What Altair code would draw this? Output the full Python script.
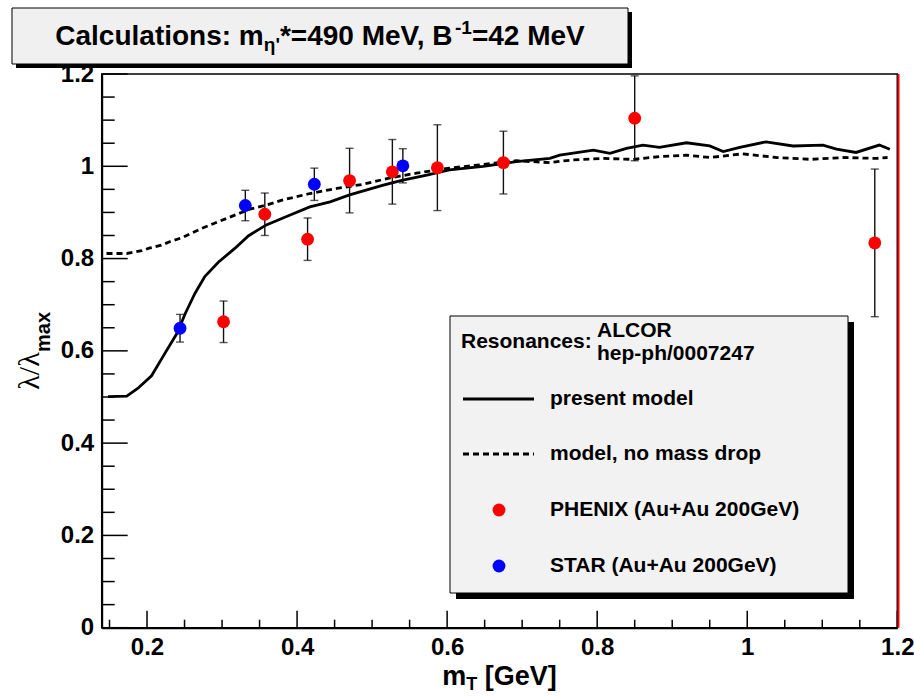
import altair as alt
import pandas as pd

# ---------------- data ----------------
solid_x = [0.148, 0.173, 0.188, 0.206, 0.224, 0.240, 0.251, 0.264, 0.277, 0.295, 0.317, 0.335,
           0.359, 0.390, 0.417, 0.444, 0.470, 0.493, 0.515, 0.541, 0.573, 0.603, 0.648, 0.692,
           0.737, 0.750, 0.795, 0.817, 0.839, 0.861, 0.883, 0.919, 0.950, 0.968, 0.990, 1.025,
           1.061, 1.101, 1.119, 1.145, 1.176, 1.190]
solid_y = [0.501, 0.502, 0.519, 0.546, 0.595, 0.638, 0.681, 0.725, 0.761, 0.792, 0.822, 0.849,
           0.873, 0.894, 0.912, 0.923, 0.938, 0.949, 0.959, 0.970, 0.981, 0.992, 1.000, 1.010,
           1.017, 1.024, 1.035, 1.028, 1.039, 1.046, 1.041, 1.051, 1.044, 1.032, 1.041, 1.053,
           1.044, 1.046, 1.037, 1.030, 1.046, 1.037]

dashed_x = [0.146, 0.173, 0.193, 0.204, 0.219, 0.231, 0.246, 0.271, 0.306, 0.337, 0.359, 0.381,
            0.417, 0.453, 0.488, 0.524, 0.559, 0.603, 0.648, 0.692, 0.737, 0.768, 0.808, 0.848,
            0.883, 0.919, 0.950, 0.994, 1.039, 1.084, 1.128, 1.172, 1.187]
dashed_y = [0.811, 0.811, 0.817, 0.823, 0.829, 0.837, 0.845, 0.864, 0.887, 0.907, 0.916, 0.927,
            0.941, 0.952, 0.961, 0.975, 0.985, 0.996, 1.004, 1.012, 1.008, 1.014, 1.017, 1.015,
            1.021, 1.024, 1.019, 1.027, 1.019, 1.015, 1.019, 1.017, 1.019]

phenix_x = [0.302, 0.357, 0.414, 0.470, 0.527, 0.587, 0.675, 0.850, 1.170]
phenix_y = [0.663, 0.896, 0.842, 0.969, 0.988, 0.997, 1.008, 1.104, 0.834]
phenix_err = [0.045, 0.046, 0.046, 0.070, 0.070, 0.093, 0.068, 0.092, 0.160]

star_x = [0.244, 0.331, 0.423, 0.541]
star_y = [0.649, 0.915, 0.961, 1.001]
star_err = [0.030, 0.033, 0.035, 0.037]

x_major = [0.2, 0.4, 0.6, 0.8, 1.0, 1.2]
x_minor = [0.15, 0.25, 0.3, 0.35, 0.45, 0.5, 0.55, 0.65, 0.7, 0.75, 0.85, 0.9, 0.95,
           1.05, 1.1, 1.15]
y_major = [0, 0.2, 0.4, 0.6, 0.8, 1.0, 1.2]
y_minor = [0.05, 0.1, 0.15, 0.25, 0.3, 0.35, 0.45, 0.5, 0.55, 0.65, 0.7, 0.75, 0.85, 0.9,
           0.95, 1.05, 1.1, 1.15]

# ---------------- layout ----------------
W, H = 795.6, 553.7
PL, PT = 101.7, 74.0
FONT = "Liberation Sans"
MSIZE = 165

AW = {' ': 278, ',': 278, '-': 333, '.': 278, '/': 278, ':': 333, '*': 389, '=': 584,
      '+': 584, '(': 333, ')': 333, '[': 333, ']': 333, "'": 238, 'η': 611,
      'A': 722, 'B': 722, 'C': 722, 'G': 778, 'M': 833, 'T': 611, 'V': 667,
      'a': 556, 'c': 556, 'e': 556, 'i': 278, 'l': 278, 'm': 889, 'n': 611, 'o': 611,
      's': 556, 't': 333, 'u': 611}


def tw(s, size):
    return sum(AW.get(c, 556) for c in s) * size / 1000.0


xscale = alt.Scale(domain=[0.1396, 1.2], nice=False, zero=False)
yscale = alt.Scale(domain=[0, 1.2], nice=False, zero=False)
xaxis = alt.Axis(values=x_major, format='.2~f', title=None, ticks=False, grid=False,
                 domainColor='black', domainWidth=2, labelFont=FONT, labelFontWeight='bold',
                 labelFontSize=24, labelColor='black', labelPadding=8, labelFlush=False,
                 labelOverlap=False)
yaxis = alt.Axis(values=y_major, format='.2~f', title=None, ticks=False, grid=False,
                 domainColor='black', domainWidth=2, labelFont=FONT, labelFontWeight='bold',
                 labelFontSize=24, labelColor='black', labelPadding=8, labelFlush=False,
                 labelOverlap=False)


def X(f='x'):
    return alt.X(f + ':Q', scale=xscale, axis=xaxis)


def Y(f='y'):
    return alt.Y(f + ':Q', scale=yscale, axis=yaxis)


one = pd.DataFrame({'k': [0]})
solid_df = pd.DataFrame({'x': solid_x, 'y': solid_y})
dashed_df = pd.DataFrame({'x': dashed_x, 'y': dashed_y})
ph_df = pd.DataFrame({'x': phenix_x, 'y': phenix_y,
                      'lo': [v - e for v, e in zip(phenix_y, phenix_err)],
                      'hi': [v + e for v, e in zip(phenix_y, phenix_err)]})
st_df = pd.DataFrame({'x': star_x, 'y': star_y,
                      'lo': [v - e for v, e in zip(star_y, star_err)],
                      'hi': [v + e for v, e in zip(star_y, star_err)]})
err_df = pd.concat([ph_df, st_df], ignore_index=True)
caps_df = pd.DataFrame({'x': list(err_df['x']) * 2,
                        'y': list(err_df['lo']) + list(err_df['hi'])})

layers = []

# inward ticks
layers.append(alt.Chart(pd.DataFrame({'y': y_major})).mark_rule(color='black', strokeWidth=1.5)
              .encode(y=Y(), x=alt.value(0), x2=alt.value(26)))
layers.append(alt.Chart(pd.DataFrame({'y': y_minor})).mark_rule(color='black', strokeWidth=1.5)
              .encode(y=Y(), x=alt.value(0), x2=alt.value(13)))
layers.append(alt.Chart(pd.DataFrame({'x': x_major})).mark_rule(color='black', strokeWidth=1.5)
              .encode(x=X(), y=alt.value(H), y2=alt.value(H - 17)))
layers.append(alt.Chart(pd.DataFrame({'x': x_minor})).mark_rule(color='black', strokeWidth=1.5)
              .encode(x=X(), y=alt.value(H), y2=alt.value(H - 8)))

# model curves
layers.append(alt.Chart(solid_df).mark_line(color='black', strokeWidth=2.8, clip=True)
              .encode(x=X(), y=Y()))
layers.append(alt.Chart(dashed_df).mark_line(color='black', strokeWidth=2.8, strokeDash=[6, 4],
                                             clip=True)
              .encode(x=X(), y=Y()))

# error bars
layers.append(alt.Chart(err_df).mark_rule(color='#111111', strokeWidth=1.4)
              .encode(x=X(), y=Y('lo'), y2='hi:Q'))
layers.append(alt.Chart(caps_df).mark_tick(color='#111111', orient='horizontal', size=8,
                                           thickness=1.4)
              .encode(x=X(), y=Y()))

# data points
layers.append(alt.Chart(ph_df).mark_circle(color='#ff0000', size=MSIZE, opacity=1)
              .encode(x=X(), y=Y()))
layers.append(alt.Chart(st_df).mark_circle(color='#0000ff', size=MSIZE, opacity=1)
              .encode(x=X(), y=Y()))

# red right edge line
layers.append(alt.Chart(one).mark_rule(color='#ff0000', strokeWidth=2)
              .encode(x=alt.value(W + 1.2), y=alt.value(0), y2=alt.value(H)))

# ---------------- title box ----------------
tb_x0, tb_x1, tb_y0, tb_y1 = 12 - PL, 628 - PL, 8 - PT, 64 - PT
layers.append(alt.Chart(one).mark_rect(color='black')
              .encode(x=alt.value(tb_x0 + 4), x2=alt.value(tb_x1 + 4),
                      y=alt.value(tb_y0 + 4), y2=alt.value(tb_y1 + 4)))
layers.append(alt.Chart(one).mark_rect(fill='#f0f0f0', stroke='black', strokeWidth=1)
              .encode(x=alt.value(tb_x0), x2=alt.value(tb_x1),
                      y=alt.value(tb_y0), y2=alt.value(tb_y1)))

TS, SS = 28, 19
pieces = [("Calculations: m", TS, 0), ("η'", SS, 8), ("*=490 MeV, B", TS, 0),
          ("-1", SS, -9), ("=42 MeV", TS, 0)]
total = sum(tw(s, sz) for s, sz, _ in pieces)
cx = (tb_x0 + tb_x1) / 2
cy = (tb_y0 + tb_y1) / 2 + 1
xpos = cx - total / 2
for s, sz, dy in pieces:
    layers.append(alt.Chart(one).mark_text(align='left', baseline='middle', font=FONT,
                                           fontWeight='bold', fontSize=sz, color='black')
                  .encode(x=alt.value(xpos), y=alt.value(cy + dy), text=alt.value(s)))
    xpos += tw(s, sz)

# ---------------- axis titles ----------------
XT_SIZE = 27
xt = [("m", XT_SIZE, 0, 0), ("T", 18, 8, 0), ("[GeV]", XT_SIZE, 0, tw(" ", XT_SIZE))]
total = sum(tw(s, sz) + gap for s, sz, _, gap in xt)
xpos = W / 2 - total / 2
for s, sz, dy, gap in xt:
    xpos += gap
    layers.append(alt.Chart(one).mark_text(align='left', baseline='middle', font=FONT,
                                           fontWeight='bold', fontSize=sz, color='black')
                  .encode(x=alt.value(xpos), y=alt.value(677 - PT + dy), text=alt.value(s)))
    xpos += tw(s, sz)

layers.append(alt.Chart(one).mark_text(angle=270, align='center', baseline='middle',
                                       font='Liberation Serif', fontSize=30, color='black')
              .encode(x=alt.value(30 - PL), y=alt.value(297), text=alt.value("λ/λ")))
layers.append(alt.Chart(one).mark_text(angle=270, align='center', baseline='middle',
                                       font=FONT, fontWeight='bold', fontSize=20, color='black')
              .encode(x=alt.value(44 - PL), y=alt.value(258), text=alt.value("max")))

# ---------------- legend ----------------
lx0, lx1, ly0, ly1 = 450 - PL, 848 - PL, 316 - PT, 593 - PT
layers.append(alt.Chart(one).mark_rect(color='black')
              .encode(x=alt.value(lx0 + 6), x2=alt.value(lx1 + 6),
                      y=alt.value(ly0 + 6), y2=alt.value(ly1 + 6)))
layers.append(alt.Chart(one).mark_rect(fill='#f2f2f2', stroke='black', strokeWidth=1)
              .encode(x=alt.value(lx0), x2=alt.value(lx1),
                      y=alt.value(ly0), y2=alt.value(ly1)))


def ltext(s, x, y, size=21):
    return (alt.Chart(one).mark_text(align='left', baseline='middle', font=FONT,
                                     fontWeight='bold', fontSize=size, color='black')
            .encode(x=alt.value(x - PL), y=alt.value(y - PT), text=alt.value(s)))


layers.append(ltext("Resonances:", 461, 342))
layers.append(ltext("ALCOR", 597, 331))
layers.append(ltext("hep-ph/0007247", 597, 354))
layers.append(ltext("present model", 550, 399))
layers.append(ltext("model, no mass drop", 550, 454))
layers.append(ltext("PHENIX (Au+Au 200GeV)", 550, 510))
layers.append(ltext("STAR (Au+Au 200GeV)", 550, 566))

layers.append(alt.Chart(one).mark_rule(color='black', strokeWidth=2.8)
              .encode(x=alt.value(463 - PL), x2=alt.value(534 - PL),
                      y=alt.value(399 - PT)))
layers.append(alt.Chart(one).mark_rule(color='black', strokeWidth=2.8, strokeDash=[6, 4])
              .encode(x=alt.value(463 - PL), x2=alt.value(534 - PL),
                      y=alt.value(454 - PT)))
layers.append(alt.Chart(one).mark_point(shape='circle', filled=True, color='#ff0000',
                                        size=MSIZE, opacity=1)
              .encode(x=alt.value(499 - PL), y=alt.value(510 - PT)))
layers.append(alt.Chart(one).mark_point(shape='circle', filled=True, color='#0000ff',
                                        size=MSIZE, opacity=1)
              .encode(x=alt.value(499 - PL), y=alt.value(566 - PT)))

chart = (alt.layer(*layers)
         .properties(width=W, height=H,
                     padding={"left": PL, "top": PT, "right": 914 - PL - W,
                              "bottom": 697 - PT - H},
                     autosize=alt.AutoSizeParams(type='none'), background='white')
         .configure_view(stroke='black', strokeWidth=1.5))

chart.save("out.html", embed_options={"renderer": "svg", "actions": False})
